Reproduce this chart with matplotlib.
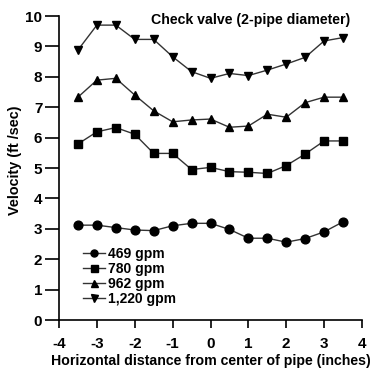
import matplotlib
matplotlib.use("Agg")
import matplotlib.pyplot as plt

plt.rcParams['font.family'] = ['Liberation Sans', 'DejaVu Sans']
plt.rcParams['axes.unicode_minus'] = False

x = [-3.5, -3, -2.5, -2, -1.5, -1, -0.5, 0, 0.5, 1, 1.5, 2, 2.5, 3, 3.5]
v469 = [3.12, 3.12, 3.04, 2.96, 2.94, 3.10, 3.18, 3.18, 2.98, 2.69, 2.69, 2.56, 2.68, 2.90, 3.23]
v780 = [5.79, 6.19, 6.33, 6.11, 5.48, 5.48, 4.95, 5.02, 4.88, 4.86, 4.82, 5.08, 5.46, 5.89, 5.89]
v962 = [7.33, 7.89, 7.95, 7.40, 6.88, 6.52, 6.58, 6.61, 6.34, 6.38, 6.77, 6.67, 7.15, 7.33, 7.33]
v1220 = [8.88, 9.70, 9.70, 9.23, 9.23, 8.66, 8.17, 7.95, 8.11, 8.04, 8.22, 8.42, 8.64, 9.18, 9.29]
labels = ['469 gpm', '780 gpm', '962 gpm', '1,220 gpm']
markers = ['o', 's', '^', 'v']
xticks = [-4, -3, -2, -1, 0, 1, 2, 3, 4]
yticks = [0, 1, 2, 3, 4, 5, 6, 7, 8, 9, 10]

fig = plt.figure(figsize=(3.77, 3.70), dpi=100)
ax = fig.add_axes([59/377, 1-320/370, 303/377, 304/370])

for ys, m, lab in zip([v469, v780, v962, v1220], markers, labels):
    ax.plot(x, ys, color='#333333', lw=1.0, marker=m, markersize=6.3,
            markerfacecolor='black', markeredgecolor='black', label=lab, clip_on=False)

ax.set_xlim(-4, 4)
ax.set_ylim(0, 10)
ax.set_xticks(xticks)
ax.set_yticks(yticks)
ax.spines['top'].set_visible(False)
ax.spines['right'].set_visible(False)
for s in ['left', 'bottom']:
    ax.spines[s].set_linewidth(1.2)
ax.tick_params(axis='y', direction='out', length=10, width=1.2, labelsize=11, pad=2)
ax.tick_params(axis='x', direction='out', length=6, width=1.2, labelsize=11, pad=6)
for t in ax.get_xticklabels() + ax.get_yticklabels():
    t.set_fontweight('bold')

ax.set_xlabel('Horizontal distance from center of pipe (inches)', fontsize=10.2,
              fontweight='bold', va='center')
ax.set_ylabel('Velocity (ft /sec)', fontsize=10.4, fontweight='bold', va='center')
ax.xaxis.set_label_coords(0.5, -0.135)
ax.yaxis.set_label_coords(-0.145, 0.525)

ax.text(1.05, 9.87, 'Check valve (2-pipe diameter)', fontsize=10.2, fontweight='bold',
        ha='center', va='center')

leg = ax.legend(loc='upper left', bbox_to_anchor=(0.06, 0.26), frameon=False,
                fontsize=10, handlelength=1.6, handletextpad=0.2, labelspacing=0.08,
                borderaxespad=0, markerscale=0.8)
for t in leg.get_texts():
    t.set_fontweight('bold')

fig.savefig('out.png', dpi=100)
